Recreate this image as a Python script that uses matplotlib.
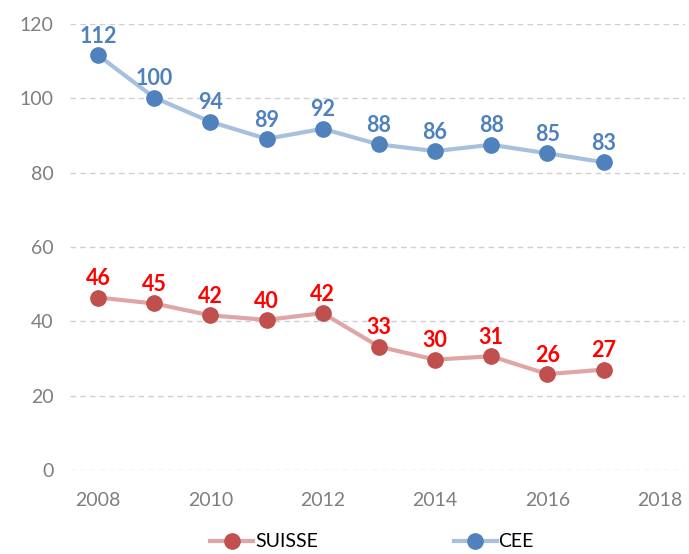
import matplotlib
matplotlib.use("Agg")
import matplotlib.pyplot as plt
from matplotlib.lines import Line2D

# values
years = [2008, 2009, 2010, 2011, 2012, 2013, 2014, 2015, 2016, 2017]
suisse = [46.4, 44.8, 41.6, 40.4, 42.2, 33.2, 29.7, 30.6, 25.8, 27.0]
cee = [111.6, 100.2, 93.7, 89.1, 91.8, 87.6, 85.8, 87.5, 85.2, 82.8]
x_ticks = [2008, 2010, 2012, 2014, 2016, 2018]
y_ticks = [0, 20, 40, 60, 80, 100, 120]

plt.rcParams["font.family"] = ["Lato", "DejaVu Sans"]

fig = plt.figure(figsize=(6.89, 5.54), dpi=100)
ax = fig.add_axes([70 / 689, 84 / 554, 615 / 689, 446 / 554])

series = [
    ("SUISSE", suisse, "#e0a6a5", "#c0504d", "#ff0000"),
    ("CEE", cee, "#a7c0de", "#4f81bd", "#4f81bd"),
]
handles = []
for name, vals, line_col, mark_col, lab_col in series:
    ax.plot(years, vals, color=line_col, lw=3, zorder=2)
    ax.plot(years, vals, ls="none", marker="o", ms=11,
            color=mark_col, zorder=3)
    for x, v in zip(years, vals):
        ax.annotate(f"{v:.0f}", (x, v), xytext=(0, 6),
                    textcoords="offset points", ha="center", va="bottom",
                    fontsize=15.5, fontweight="bold", color=lab_col)
    handles.append(Line2D([], [], color=line_col, lw=3, marker="o", ms=11,
                          markerfacecolor=mark_col, markeredgecolor=mark_col,
                          label=name))

ax.set_xlim(2007.5, 2018.45)
ax.set_ylim(0, 120)
ax.set_xticks(x_ticks)
ax.set_yticks(y_ticks)
ax.tick_params(length=0, labelsize=14, labelcolor="#7f7f7f")
ax.tick_params(axis="x", pad=16)
ax.tick_params(axis="y", pad=12)
ax.grid(axis="y", color="#d0d0d0", ls=(0, (4, 3)), lw=1)
for s in ax.spines.values():
    s.set_visible(False)

fig.legend(handles=handles, loc="lower center", ncol=2, frameon=False,
           bbox_to_anchor=(0.54, -0.025), fontsize=14, columnspacing=7,
           handlelength=2.2, handletextpad=0.1)

fig.savefig("out.png", dpi=100)
